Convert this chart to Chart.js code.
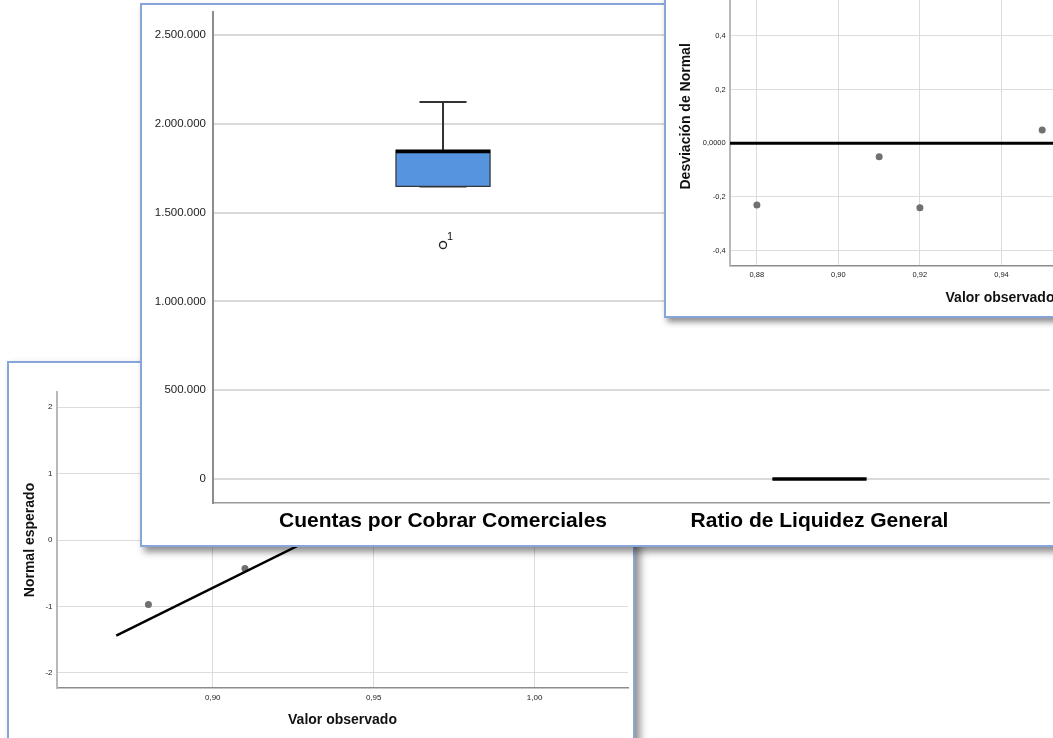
<!DOCTYPE html>
<html>
<head>
<meta charset="utf-8">
<script src="https://cdn.jsdelivr.net/npm/chart.js@4.4.1/dist/chart.umd.min.js"></script>
<style>
  html, body { margin: 0; padding: 0; background: #fff; }
  body { width: 1053px; height: 738px; overflow: hidden; position: relative; }
  .win { position: absolute; background: #fff; border: 2px solid #86a6d9; }
  .win canvas { display: block; }
  #winQQ  { left: 7px;   top: 361px;  width: 624px; height: 400px; z-index: 1; box-shadow: 5px 5px 8px rgba(0,0,0,0.45); }
  #winBox { left: 140px; top: 3px;    width: 920px; height: 540px; z-index: 2; box-shadow: 4px 5px 7px rgba(0,0,0,0.45); }
  #winDet { left: 664px; top: -100px; width: 700px; height: 414px; z-index: 3; box-shadow: 3px 4px 6px rgba(0,0,0,0.45); }
</style>
</head>
<body>
<div class="win" id="winQQ"><canvas id="qq" width="624" height="400"></canvas></div>
<div class="win" id="winBox"><canvas id="box" width="920" height="540"></canvas></div>
<div class="win" id="winDet"><canvas id="det" width="700" height="414"></canvas></div>

<script>
// ---- Ratio de Liquidez General: observed values and normal scores ----
const ratioValues     = [0.88, 0.91, 0.92, 0.95, 0.99];
const expectedNormal  = [-0.97, -0.43, 0.00, 0.43, 0.97];
const deviationNormal = [-0.23, -0.05, -0.24, 0.05, 0.44];

// reference line of the normal Q-Q plot (end points)
const qqLineX = [0.87, 1.00];
const qqLineY = [-1.44, 1.68];

// Q-Q axes
const qqXTicks  = [0.90, 0.95, 1.00];
const qqXLabels = ['0,90', '0,95', '1,00'];
const qqYTicks  = [-2, -1, 0, 1, 2];
const qqYLabels = ['-2', '-1', '0', '1', '2'];

// detrended axes
const detXTicks  = [0.88, 0.90, 0.92, 0.94, 0.96, 0.98, 1.00];
const detXLabels = ['0,88', '0,90', '0,92', '0,94', '0,96', '0,98', '1,00'];
const detYTicks  = [-0.4, -0.2, 0, 0.2, 0.4];
const detYLabels = ['-0,4', '-0,2', '0,0000', '0,2', '0,4'];

// ---- box plots ----
const boxCategories = ['Cuentas por Cobrar Comerciales', 'Ratio de Liquidez General'];
const boxMin    = [1648000, 0.88];
const boxQ1     = [1648000, 0.895];
const boxMedian = [1845000, 0.92];
const boxQ3     = [1852000, 0.95];
const boxMax    = [2123000, 0.99];
const outlierValues = [1318000];
const outlierGroup  = [0];
const outlierCase   = ['1'];
const boxYTicks  = [0, 500000, 1000000, 1500000, 2000000, 2500000];
const boxYLabels = ['0', '500.000', '1.000.000', '1.500.000', '2.000.000', '2.500.000'];

Chart.defaults.font.family = '"Liberation Sans", Arial, Helvetica, sans-serif';
Chart.defaults.animation = false;
Chart.defaults.plugins.legend.display = false;
Chart.defaults.plugins.tooltip.enabled = false;

// condensed bold face for the category names when one is installed
function fontInstalled(name) {
  const c = document.createElement('canvas').getContext('2d');
  c.font = 'bold 40px monospace';
  const base = c.measureText('Cuentas por Cobrar').width;
  c.font = 'bold 40px "' + name + '", monospace';
  return c.measureText('Cuentas por Cobrar').width !== base;
}
const catFont = fontInstalled('Liberation Sans Narrow')
  ? { family: '"Liberation Sans Narrow", "Liberation Sans", Arial, sans-serif', size: 25, weight: 'bold' }
  : { size: 21, weight: 'bold' };

const setTicks = list => scale => { scale.ticks = list.map(v => ({ value: v })); };
const fixBox = (w, h) => scale => {
  if (w !== null) scale.width = w;
  if (h !== null) scale.height = h;
  scale.paddingTop = 0; scale.paddingBottom = 0; scale.paddingLeft = 0; scale.paddingRight = 0;
};
const pts = (xs, ys) => xs.map((x, i) => ({ x: x, y: ys[i] }));

// ---------- Normal Q-Q plot ----------
new Chart(document.getElementById('qq'), {
  type: 'scatter',
  data: {
    datasets: [
      { type: 'line', data: pts(qqLineX, qqLineY), borderColor: '#000', borderWidth: 2.5, pointRadius: 0, showLine: true },
      { data: pts(ratioValues, expectedNormal), backgroundColor: '#707070', borderWidth: 0, pointRadius: 3.5 }
    ]
  },
  options: {
    responsive: false,
    layout: { padding: { top: 29, right: 5, left: 0, bottom: 0 } },
    scales: {
      x: {
        type: 'linear', min: 0.8516, max: 1.029,
        afterBuildTicks: setTicks(qqXTicks),
        afterFit: fixBox(null, 75),
        ticks: { callback: (v, i) => qqXLabels[i], font: { size: 8 }, color: '#222', padding: 4.5, maxRotation: 0, autoSkip: false },
        grid: { color: '#dcdcdc', lineWidth: 1, drawTicks: false },
        border: { color: '#8c8c8c', width: 1.5 },
        title: { display: true, text: 'Valor observado', font: { size: 14, weight: 'bold' }, color: '#111', padding: { top: 0, bottom: 34.6 } }
      },
      y: {
        type: 'linear', min: -2.23, max: 2.23,
        afterBuildTicks: setTicks(qqYTicks),
        afterFit: fixBox(48, null),
        ticks: { callback: (v, i) => qqYLabels[i], font: { size: 8 }, color: '#222', padding: 4.5, autoSkip: false },
        grid: { color: '#dcdcdc', lineWidth: 1, drawTicks: false },
        border: { color: '#b8b8b8', width: 2 },
        title: { display: true, text: 'Normal esperado', font: { size: 14, weight: 'bold' }, color: '#111', padding: { top: 12.6, bottom: 0 } }
      }
    }
  }
});

// ---------- Box plots ----------
const boxDrawer = {
  id: 'boxDrawer',
  beforeDatasetsDraw(chart) {
    const ctx = chart.ctx, xs = chart.scales.x, ys = chart.scales.y;
    const halfBox = 0.125, halfCap = 0.0625;
    ctx.save();
    boxCategories.forEach((c, i) => {
      const cx = xs.getPixelForValue(i + 1);
      const l = xs.getPixelForValue(i + 1 - halfBox), r = xs.getPixelForValue(i + 1 + halfBox);
      const cl = xs.getPixelForValue(i + 1 - halfCap), cr = xs.getPixelForValue(i + 1 + halfCap);
      const yMin = ys.getPixelForValue(boxMin[i]), yQ1 = ys.getPixelForValue(boxQ1[i]);
      const yMed = ys.getPixelForValue(boxMedian[i]), yQ3 = ys.getPixelForValue(boxQ3[i]);
      const yMax = ys.getPixelForValue(boxMax[i]);
      // whiskers
      ctx.strokeStyle = '#333'; ctx.lineWidth = 2;
      ctx.beginPath();
      ctx.moveTo(cx, yQ3); ctx.lineTo(cx, yMax);
      ctx.moveTo(cl, yMax); ctx.lineTo(cr, yMax);
      ctx.moveTo(cx, yQ1); ctx.lineTo(cx, yMin);
      ctx.moveTo(cl, yMin); ctx.lineTo(cr, yMin);
      ctx.stroke();
      // box
      ctx.fillStyle = '#5694e0';
      ctx.fillRect(l, yQ3, r - l, yQ1 - yQ3);
      ctx.lineWidth = 1.2; ctx.strokeStyle = '#333';
      ctx.strokeRect(l, yQ3, r - l, yQ1 - yQ3);
      // median
      ctx.strokeStyle = '#000'; ctx.lineWidth = 3.5;
      ctx.beginPath(); ctx.moveTo(l, yMed); ctx.lineTo(r, yMed); ctx.stroke();
    });
    // case labels of outliers
    ctx.fillStyle = '#111'; ctx.font = '11px "Liberation Sans", Arial, sans-serif';
    ctx.textBaseline = 'middle'; ctx.textAlign = 'left';
    outlierValues.forEach((v, k) => {
      const px = xs.getPixelForValue(outlierGroup[k] + 1), py = ys.getPixelForValue(v);
      ctx.fillText(outlierCase[k], px + 4, py - 8);
    });
    ctx.restore();
  }
};

new Chart(document.getElementById('box'), {
  type: 'scatter',
  data: {
    datasets: [
      { data: outlierValues.map((v, k) => ({ x: outlierGroup[k] + 1, y: v })), pointStyle: 'circle', pointRadius: 3.5,
        backgroundColor: '#fff', borderColor: '#222', borderWidth: 1.3 }
    ]
  },
  options: {
    responsive: false,
    layout: { padding: { top: 7, right: 12.5, left: 0, bottom: 0 } },
    scales: {
      x: {
        type: 'linear', min: 0.389, max: 2.611,
        afterBuildTicks: setTicks([1, 2]),
        afterFit: fixBox(null, 42),
        ticks: { callback: v => boxCategories[v - 1], font: catFont, color: '#000', padding: 6, maxRotation: 0, autoSkip: false },
        grid: { display: false, drawTicks: false },
        border: { color: '#999', width: 1.5 }
      },
      y: {
        type: 'linear', min: -135000, max: 2630000,
        afterBuildTicks: setTicks(boxYTicks),
        afterFit: fixBox(71, null),
        ticks: { callback: (v, i) => boxYLabels[i], font: { size: 11.5 }, color: '#222', padding: 7, autoSkip: false },
        grid: { color: '#d9d9d9', lineWidth: 2, drawTicks: false },
        border: { color: '#8c8c8c', width: 2 }
      }
    }
  },
  plugins: [boxDrawer]
});

// ---------- Detrended normal Q-Q plot ----------
const detXMin = 0.8734, detXMax = 1.0059;
new Chart(document.getElementById('det'), {
  type: 'scatter',
  data: {
    datasets: [
      { type: 'line', data: [{ x: detXMin, y: 0 }, { x: detXMax, y: 0 }], borderColor: '#000', borderWidth: 3, pointRadius: 0, showLine: true },
      { data: pts(ratioValues, deviationNormal), backgroundColor: '#707070', borderWidth: 0, pointRadius: 3.5 }
    ]
  },
  options: {
    responsive: false,
    layout: { padding: { top: 65, right: 96, left: 0, bottom: 0 } },
    scales: {
      x: {
        type: 'linear', min: detXMin, max: detXMax,
        afterBuildTicks: setTicks(detXTicks),
        afterFit: fixBox(null, 50.3),
        ticks: { callback: (v, i) => detXLabels[i], font: { size: 7.5 }, color: '#222', padding: 4.8, maxRotation: 0, autoSkip: false },
        grid: { color: '#dcdcdc', lineWidth: 1, drawTicks: false },
        border: { color: '#8c8c8c', width: 1.5 },
        title: { display: true, text: 'Valor observado', font: { size: 14, weight: 'bold' }, color: '#111', padding: { top: 0, bottom: 9.6 } }
      },
      y: {
        type: 'linear', min: -0.456, max: 0.657,
        afterBuildTicks: setTicks(detYTicks),
        afterFit: fixBox(64, null),
        ticks: { callback: (v, i) => detYLabels[i], font: { size: 7.5 }, color: '#222', padding: 4.3, autoSkip: false },
        grid: { color: '#dcdcdc', lineWidth: 1, drawTicks: false },
        border: { color: '#b8b8b8', width: 2 },
        title: { display: true, text: 'Desviación de Normal', font: { size: 14, weight: 'bold' }, color: '#111', padding: { top: 11.6, bottom: 0 } }
      }
    }
  }
});
</script>
</body>
</html>
